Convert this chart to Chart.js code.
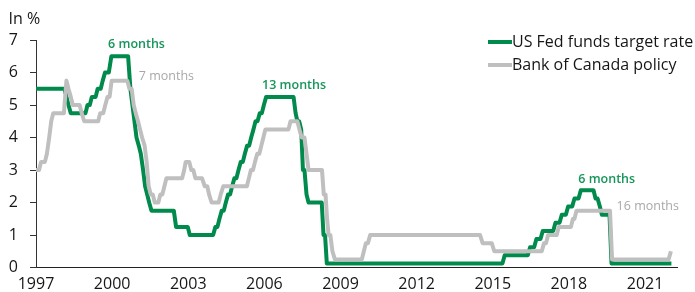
<!DOCTYPE html>
<html><head><meta charset="utf-8">
<script src="https://cdn.jsdelivr.net/npm/chart.js@4/dist/chart.umd.min.js"></script>
<style>html,body{margin:0;padding:0;background:#fff;}#wrap{width:695px;height:292px;}</style>
</head><body><div id="wrap"><canvas id="c" width="695" height="292"></canvas></div>
<script>
// ---- data (x in axis years, y in %) ----
const tickYears = [1997, 2000, 2003, 2006, 2009, 2012, 2015, 2018, 2021];
const seriesNames = ['US Fed funds target rate', 'Bank of Canada policy'];
const yUnit = 'In %';

const fedX = [1997.00,1998.12,1998.20,1998.28,1998.37,1998.95,1999.03,1999.12,1999.20,1999.35,1999.43,1999.55,1999.63,1999.72,1999.87,1999.97,
  2000.63,2000.72,2000.80,2000.88,2000.96,2001.05,2001.13,2001.22,2001.30,2001.38,2001.46,2001.55,2002.43,2002.52,2002.98,2003.06,
  2003.98,2004.07,2004.15,2004.23,2004.32,2004.40,2004.48,2004.57,2004.65,2004.73,2004.82,2004.90,2004.98,2005.07,2005.15,2005.23,2005.32,2005.40,2005.48,2005.57,2005.65,2005.73,2005.82,2005.90,2005.98,2006.07,
  2007.15,2007.23,2007.30,2007.37,2007.45,2007.52,2007.58,2007.66,2007.74,2008.26,2008.33,2008.39,2008.46,
  2015.38,2015.47,2016.38,2016.47,2016.63,2016.72,2016.88,2016.97,2017.38,2017.47,2017.63,2017.72,2017.88,2017.97,2018.13,2018.22,2018.38,2018.47,
  2018.97,2019.05,2019.13,2019.22,2019.30,2019.60,2019.68,2022.04];
const fedY = [5.5,5.5,5.25,5.0,4.75,4.75,5.0,5.0,5.25,5.25,5.5,5.5,5.75,6.0,6.0,6.5,
  6.5,5.5,5.0,4.5,4.0,3.75,3.5,3.0,2.5,2.25,2.0,1.75,1.75,1.25,1.25,1.0,
  1.0,1.25,1.25,1.5,1.75,1.75,2.0,2.25,2.25,2.5,2.75,2.75,3.0,3.25,3.25,3.5,3.75,3.75,4.0,4.25,4.5,4.5,4.75,4.75,5.0,5.25,
  5.25,4.75,4.5,4.5,4.25,3.0,3.0,2.25,2.0,2.0,1.0,1.0,0.125,
  0.125,0.375,0.375,0.625,0.625,0.875,0.875,1.125,1.125,1.375,1.375,1.625,1.625,1.875,1.875,2.125,2.125,2.375,
  2.375,2.125,2.125,1.875,1.625,1.625,0.125,0.125];

const bocX = [1997.00,1997.12,1997.20,1997.35,1997.43,1997.52,1997.60,1997.68,1998.10,1998.20,1998.28,1998.37,1998.45,1998.72,1998.80,1998.90,
  1999.45,1999.53,1999.65,1999.73,1999.82,1999.90,1999.98,2000.60,2000.68,2000.77,2000.85,2000.93,2001.02,2001.10,2001.18,2001.28,2001.36,2001.44,2001.52,2001.60,2001.68,2001.82,2001.90,2001.98,2002.06,2002.14,
  2002.76,2002.84,2002.90,2003.04,2003.12,2003.20,2003.28,2003.54,2003.65,2003.75,2003.82,2003.92,2004.20,2004.28,2004.38,
  2005.31,2005.39,2005.47,2005.55,2005.63,2005.72,2005.80,2005.88,2005.96,2006.04,2006.95,2007.03,2007.30,2007.38,2007.47,2007.58,2007.66,2007.74,
  2008.27,2008.34,2008.41,2008.47,2008.53,2008.60,2008.68,2008.78,2009.84,2009.92,2010.00,2010.08,2010.17,
  2014.50,2014.60,2014.96,2015.06,2016.93,2017.02,2017.10,2017.18,2017.52,2017.60,2018.08,2018.16,2018.22,2018.30,2019.62,2019.70,2021.93,2022.02];
const bocY = [3.0,3.0,3.25,3.25,3.5,4.0,4.5,4.75,4.75,5.75,5.5,5.25,5.0,5.0,4.75,4.5,
  4.5,4.75,4.75,5.0,5.25,5.25,5.75,5.75,5.5,5.5,5.0,4.75,4.5,4.25,4.0,3.75,3.25,2.5,2.25,2.25,2.0,2.0,2.25,2.25,2.5,2.75,
  2.75,3.0,3.25,3.25,3.0,3.0,2.75,2.75,2.5,2.5,2.25,2.0,2.0,2.25,2.5,
  2.5,2.75,3.0,3.0,3.25,3.5,3.5,3.75,4.0,4.25,4.25,4.5,4.5,4.25,4.0,4.0,3.5,3.0,
  3.0,2.25,2.25,1.5,1.0,1.0,0.5,0.25,0.25,0.5,0.75,0.75,1.0,
  1.0,0.75,0.75,0.5,0.5,0.75,0.75,1.0,1.0,1.25,1.25,1.5,1.5,1.75,1.75,0.25,0.25,0.5];

const noteTexts = ['6 months', '7 months', '13 months', '6 months', '16 months'];

// ---- styling / layout ----
const GREEN = '#008a4b', GRAY = '#bfbfbf', GREEN_TXT = '#16965a', GRAY_TXT = '#a8a8a8', INK = '#161616';
const FONT = '"Open Sans", "Noto Sans", sans-serif';
const noteAnchors = [
  {x: 2000.96, y: 6.86, align: 'center', color: GREEN_TXT, weight: '600'},
  {x: 2001.05, y: 5.89, align: 'left', color: GRAY_TXT, weight: '400'},
  {x: 2007.17, y: 5.60, align: 'center', color: GREEN_TXT, weight: '600'},
  {x: 2019.49, y: 2.70, align: 'center', color: GREEN_TXT, weight: '600'},
  {x: 2019.88, y: 1.875, align: 'left', color: GRAY_TXT, weight: '400'}
];

const extras = {
  id: 'extras',
  afterDraw(chart) {
    const ctx = chart.ctx, xs = chart.scales.x, ys = chart.scales.y;
    ctx.save();
    ctx.fillStyle = INK; ctx.font = '16px ' + FONT; ctx.textAlign = 'left'; ctx.textBaseline = 'alphabetic';
    ctx.fillText(yUnit, 8.5, 23.5);
    ctx.textBaseline = 'middle';
    noteTexts.forEach((t, i) => {
      const a = noteAnchors[i];
      ctx.font = a.weight + ' 12.5px ' + FONT;
      ctx.fillStyle = a.color; ctx.textAlign = a.align;
      ctx.fillText(t, xs.getPixelForValue(a.x), ys.getPixelForValue(a.y));
    });
    const rows = [42, 65];
    chart.data.datasets.forEach((ds) => {
      const y = rows[ds.legendRow];
      ctx.strokeStyle = ds.borderColor; ctx.lineWidth = 4; ctx.lineCap = 'butt';
      ctx.beginPath(); ctx.moveTo(488, y); ctx.lineTo(512, y); ctx.stroke();
      ctx.fillStyle = INK; ctx.font = '16px ' + FONT; ctx.textAlign = 'left'; ctx.textBaseline = 'middle';
      ctx.fillText(ds.label, 512, y + 0.5);
    });
    ctx.restore();
  }
};

new Chart(document.getElementById('c'), {
  type: 'line',
  data: {
    datasets: [
      {label: seriesNames[0], legendRow: 0, data: fedX.map((x, i) => ({x, y: fedY[i]})),
       borderColor: GREEN, borderWidth: 4, pointRadius: 0, tension: 0, order: 2, borderJoinStyle: 'round'},
      {label: seriesNames[1], legendRow: 1, data: bocX.map((x, i) => ({x, y: bocY[i]})),
       borderColor: GRAY, borderWidth: 4, pointRadius: 0, tension: 0, order: 1, borderJoinStyle: 'round'}
    ]
  },
  options: {
    responsive: false, animation: false, devicePixelRatio: 1,
    layout: {padding: {top: 40, right: 18, bottom: 0, left: 0}},
    plugins: {legend: {display: false}, tooltip: {enabled: false}},
    scales: {
      x: {
        type: 'linear', min: 1997, max: 2022.26,
        afterBuildTicks: s => { s.ticks = tickYears.map(v => ({value: v})); },
        afterFit: s => { s.height = 24.5; },
        grid: {drawOnChartArea: false, drawTicks: false},
        border: {display: true, color: '#222', width: 1},
        ticks: {padding: 7, color: INK, font: {family: FONT, size: 16}, maxRotation: 0, autoSkip: false,
                callback: v => String(v)}
      },
      y: {
        min: 0, max: 7,
        ticks: {stepSize: 1, padding: 12, color: INK, font: {family: FONT, size: 16}},
        afterFit: s => { s.width = 36; },
        grid: {drawOnChartArea: false, drawTicks: true, tickLength: 6, color: '#333'},
        border: {display: true, color: '#333', width: 1}
      }
    }
  },
  plugins: [extras]
});
</script></body></html>
